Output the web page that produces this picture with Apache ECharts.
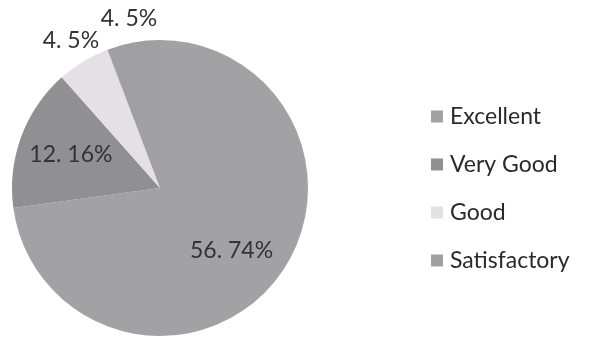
<!DOCTYPE html>
<html><head><meta charset="utf-8">
<script src="https://cdn.jsdelivr.net/npm/echarts@6/dist/echarts.min.js"></script>
<style>html,body{margin:0;padding:0;background:#fff;}#c{width:593px;height:340px;}</style>
</head><body><div id="c"></div>
<script>
const categories = ['Excellent', 'Very Good', 'Good', 'Satisfactory'];
const values = [56.74, 12.16, 4.5, 4.5];
const labelTexts = ['56. 74%', '12. 16%', '4. 5%', '4. 5%'];
const insideLabel = [true, true, false, false];
const colors = ['#a2a2a4', '#909092', '#e4e0e6', '#a0a0a2'];

const FONT = 'Lato, "Open Sans", sans-serif';
const chart = echarts.init(document.getElementById('c'), null, {renderer: 'canvas'});

function helper(radius, showFn) {
  return {
    type: 'pie', silent: true, center: [160, 188], radius: [0, radius],
    startAngle: 90, clockwise: true, animation: false, legendHoverLink: false,
    itemStyle: {color: 'rgba(0,0,0,0)', borderWidth: 0},
    labelLine: {show: false},
    data: categories.map((c, i) => ({
      name: c, value: values[i],
      label: {show: showFn(i), position: 'inside', formatter: labelTexts[i],
        color: '#333', fontSize: 23, fontFamily: FONT}
    }))
  };
}

chart.setOption({
  backgroundColor: '#fff',
  animation: false,
  color: colors,
  legend: {
    orient: 'vertical', left: 426, top: 100, icon: 'rect',
    itemWidth: 12, itemHeight: 12, itemGap: 25,
    textStyle: {fontSize: 23, fontFamily: FONT, color: '#2a2a2a', lineHeight: 22, padding: [0, 0, 0, 2]},
    data: categories
  },
  series: [
    {
      type: 'pie', center: [160, 188], radius: [0, 148], startAngle: 90, clockwise: true,
      label: {show: false}, labelLine: {show: false},
      itemStyle: {borderWidth: 0},
      data: categories.map((c, i) => ({name: c, value: values[i], itemStyle: {color: colors[i]}}))
    },
    helper(184, i => insideLabel[i]),
    helper(338, i => !insideLabel[i])
  ]
});
</script></body></html>
